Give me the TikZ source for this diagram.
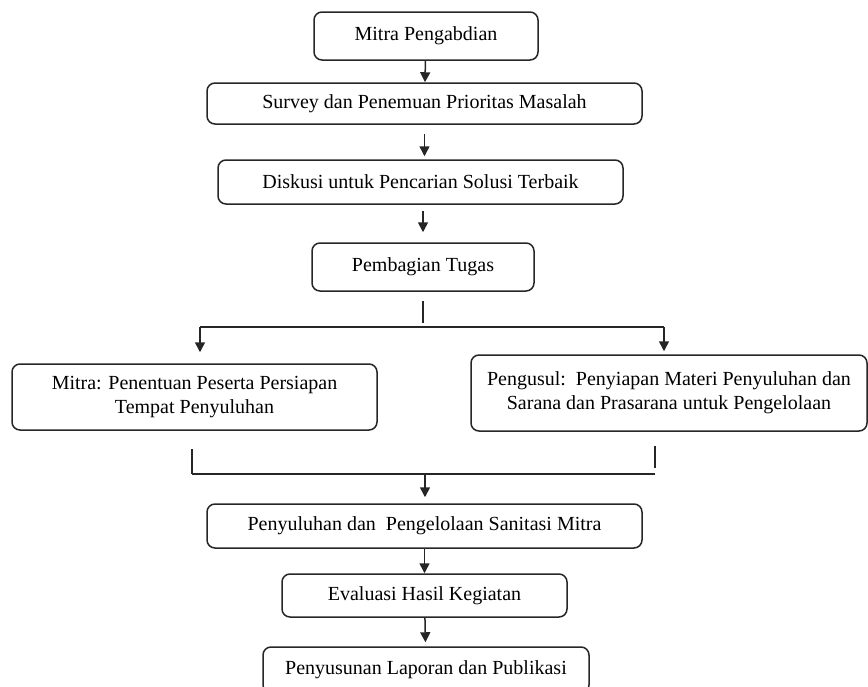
\documentclass[tikz,border=0pt]{standalone}
\usepackage{fontspec}
\setmainfont{Liberation Serif}
\usetikzlibrary{arrows.meta}

\begin{document}
\begin{tikzpicture}[x=0.5pt,y=-0.5pt,line width=0.75pt,
    box/.style = {draw=black!85, rounded corners=4pt, align=center,
        font=\normalsize, inner sep=2pt},
    flow/.style = {draw=black!85, -{Triangle[length=5pt,width=5pt]}},
    stub/.style = {draw=black!85}]
    \clip (0,0) rectangle (868,686);

    \node[box, minimum width=112pt, minimum height=24pt] (mitra) at (426, 36) {Mitra Pengabdian};
    \node[box, minimum width=217.5pt, minimum height=20.5pt] (survey) at (424.5, 103.5) {Survey dan Penemuan Prioritas Masalah};
    \node[box, minimum width=202.5pt, minimum height=22pt] (diskusi) at (420.5, 182) {Diskusi untuk Pencarian Solusi Terbaik};
    \node[box, minimum width=111pt, minimum height=24pt] (tugas) at (423, 267) {Pembagian Tugas};
    \node[box, minimum width=182.5pt, minimum height=33pt] (mitratugas) at (194.5, 397)
        {Mitra: Penentuan Peserta Persiapan\\Tempat Penyuluhan};
    \node[box, minimum width=198pt, minimum height=38pt] (pengusul) at (669, 393)
        {Pengusul:\ \ Penyiapan Materi Penyuluhan dan\\Sarana dan Prasarana untuk Pengelolaan};
    \node[box, minimum width=217.5pt, minimum height=22pt] (penyuluhan) at (424.5, 526) {Penyuluhan dan\ \ Pengelolaan Sanitasi Mitra};
    \node[box, minimum width=142.5pt, minimum height=21.5pt] (evaluasi) at (424.5, 595.5) {Evaluasi Hasil Kegiatan};
    \node[box, minimum width=163pt, minimum height=23pt] (laporan) at (426, 670) {Penyusunan Laporan dan Publikasi};

    \coordinate (splitL) at (200, 327);
    \coordinate (splitR) at (664, 327);
    \coordinate (joinL) at (192, 474);
    \coordinate (joinR) at (655, 474);
    \coordinate (joinM) at (425, 474);

    \path
        (mitra) edge[flow] (survey)
        (survey.south) edge[flow, shorten <=4.5pt, shorten >=1.5pt] (survey.south |- diskusi.north)
        (tugas.north |- diskusi.south) edge[flow, shorten <=3pt, shorten >=5pt] (tugas.north)
        (tugas) edge[stub, shorten <=4.5pt, shorten >=2pt] (tugas |- splitL)
        (splitL) edge[stub] (splitR)
        (splitL) edge[flow, shorten >=5.5pt] (splitL |- mitratugas.north)
        (splitR) edge[flow, shorten >=1.5pt] (splitR |- pengusul.north)
        (joinL |- mitratugas.south) edge[stub, shorten <=9pt] (joinL)
        (joinR |- pengusul.south) edge[stub, shorten <=7pt, shorten >=3pt] (joinR)
        (joinL) edge[stub] (joinR)
        (joinM) edge[flow, shorten >=3pt] (joinM |- penyuluhan.north)
        (penyuluhan) edge[flow] (evaluasi)
        (evaluasi) edge[flow, shorten >=2pt] (laporan);
\end{tikzpicture}
\end{document}
